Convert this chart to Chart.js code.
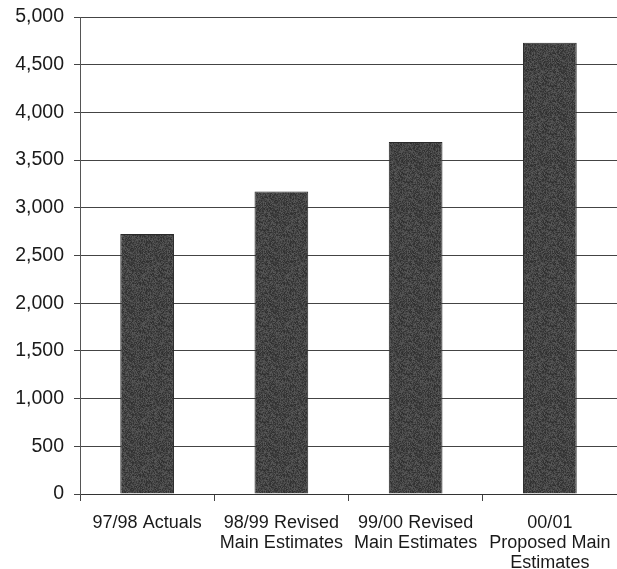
<!DOCTYPE html>
<html>
<head>
<meta charset="utf-8">
<script src="https://cdn.jsdelivr.net/npm/chart.js@4/dist/chart.umd.min.js"></script>
<style>
  html, body { margin: 0; padding: 0; background: #ffffff; }
  #wrap { width: 617px; height: 569px; }
</style>
</head>
<body>
<div id="wrap"><canvas id="c" width="617" height="569"></canvas></div>
<script>
// Spending by year (thousands)
const categories = [
  ['97/98 Actuals'],
  ['98/99 Revised', 'Main Estimates'],
  ['99/00 Revised', 'Main Estimates'],
  ['00/01', 'Proposed Main', 'Estimates']
];
const amounts = [2725, 3170, 3690, 4730];
const yTicks = { min: 0, max: 5000, step: 500 };

// Speckled dark fill for the columns
function grainPattern() {
  const size = 48;
  const cv = document.createElement('canvas');
  cv.width = size; cv.height = size;
  const g = cv.getContext('2d');
  const img = g.createImageData(size, size);
  let s = 12345;
  for (let i = 0; i < size * size; i++) {
    s = (s * 1103515245 + 12345) & 0x7fffffff;
    const v = 68 + ((s >> 8) % 44) - 22;
    img.data[i * 4] = v;
    img.data[i * 4 + 1] = v;
    img.data[i * 4 + 2] = v;
    img.data[i * 4 + 3] = 255;
  }
  g.putImageData(img, 0, 0);
  return g.createPattern(cv, 'repeat');
}

const ctx = document.getElementById('c').getContext('2d');
new Chart(ctx, {
  type: 'bar',
  data: {
    labels: categories,
    datasets: [{
      data: amounts,
      backgroundColor: grainPattern(),
      borderColor: '#2a2a2a',
      borderWidth: 1,
      categoryPercentage: 1.0,
      barPercentage: 0.4
    }]
  },
  options: {
    responsive: false,
    animation: false,
    devicePixelRatio: 1,
    layout: { padding: { top: 17, right: -2, bottom: 0, left: 0 } },
    plugins: { legend: { display: false }, tooltip: { enabled: false } },
    scales: {
      x: {
        offset: true,
        grid: {
          display: true,
          offset: true,
          drawOnChartArea: false,
          drawTicks: true,
          tickLength: 7,
          color: '#444444',
          lineWidth: 1
        },
        border: { display: true, color: '#333333', width: 1 },
        ticks: {
          color: '#1a1a1a',
          font: { family: '"Liberation Sans", Arial, sans-serif', size: 18, lineHeight: '20px' },
          padding: 12,
          maxRotation: 0,
          autoSkip: false
        },
        afterFit: (scale) => {
          scale.height = 75;
          scale.paddingLeft = 0;
          scale.paddingRight = 0;
        }
      },
      y: {
        min: yTicks.min,
        max: yTicks.max,
        grid: {
          color: '#444444',
          lineWidth: 1,
          drawTicks: true,
          tickLength: 6
        },
        border: { display: true, color: '#555555', width: 1 },
        ticks: {
          stepSize: yTicks.step,
          color: '#1a1a1a',
          font: { family: '"Liberation Sans", Arial, sans-serif', size: 19.5 },
          padding: 10,
          callback: (v) => v.toLocaleString('en-US')
        },
        afterFit: (scale) => {
          scale.width = 80;
          scale.paddingTop = 0;
          scale.paddingBottom = 0;
        }
      }
    }
  }
});
</script>
</body>
</html>
